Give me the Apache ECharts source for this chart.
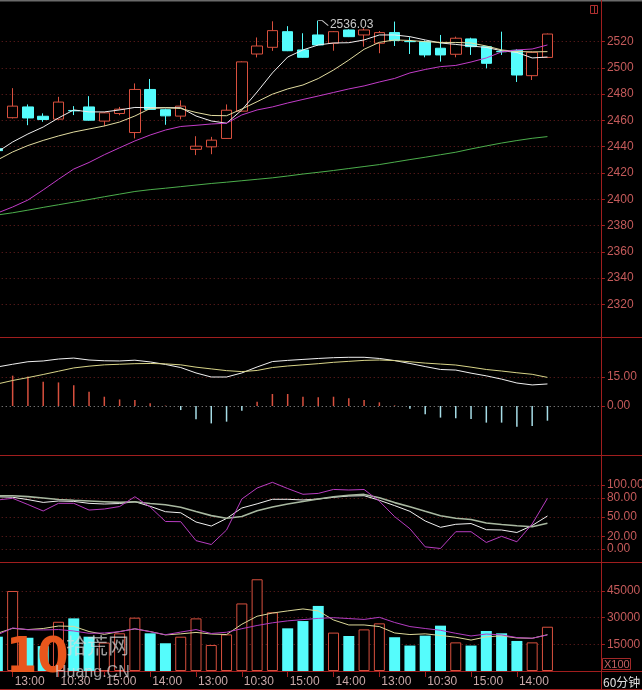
<!DOCTYPE html>
<html><head><meta charset="utf-8">
<script src="https://cdn.jsdelivr.net/npm/echarts@6/dist/echarts.min.js"></script>
<style>html,body{margin:0;padding:0;background:#000;overflow:hidden}#c{width:642px;height:690px}</style>
</head><body><div id="c"></div>
<script>
// ---- price candles (index 0 is the partly hidden bar at the left edge) ----
const opens  = [2438.5,2462.1,2470.3,2463.2,2461.0,2467.6,2470.3,2459.5,2465.3,2450.8,2483.6,2468.2,2463.3,2438.0,2439.9,2446.3,2467.1,2510.6,2515.7,2527.6,2513.7,2525.1,2518.8,2528.9,2525.1,2518.8,2526.9,2520.1,2520.0,2515.0,2510.4,2522.1,2516.2,2512.6,2513.4,2494.1,2508.0];
const closes = [2437.0,2470.9,2461.9,2460.7,2474.0,2467.3,2460.2,2465.8,2468.6,2483.6,2468.4,2463.5,2470.9,2440.4,2445.0,2467.8,2504.6,2516.7,2528.4,2513.1,2508.1,2517.5,2527.6,2523.8,2528.9,2526.9,2520.8,2520.0,2509.9,2509.9,2522.6,2516.2,2503.5,2512.3,2494.6,2511.9,2525.8];
const lows   = [2434.0,2461.5,2456.4,2459.0,2460.5,2464.1,2459.8,2455.6,2464.0,2446.3,2468.0,2456.7,2460.8,2433.6,2434.3,2446.0,2466.8,2508.0,2513.0,2512.8,2507.8,2517.0,2513.1,2523.5,2516.2,2511.2,2516.7,2510.6,2508.1,2504.8,2508.1,2509.9,2499.7,2509.9,2489.3,2490.8,2507.5];
const highs  = [2441.0,2484.6,2472.2,2465.4,2478.0,2470.9,2478.5,2466.5,2470.3,2488.2,2491.6,2469.0,2475.3,2448.0,2447.5,2472.2,2505.0,2523.2,2535.5,2531.8,2526.4,2536.03,2528.0,2529.4,2530.2,2528.1,2535.3,2523.4,2521.0,2525.1,2523.8,2523.0,2516.7,2527.6,2514.2,2512.4,2526.2];
// ---- price moving averages ----
const ma5  = [2436.0,2443.6,2449.7,2455.0,2461.9,2468.0,2466.5,2466.5,2468.0,2469.9,2469.7,2469.7,2469.7,2463.4,2459.6,2457.9,2468.0,2481.7,2496.2,2508.3,2513.7,2517.5,2519.0,2519.2,2521.3,2525.1,2525.1,2523.8,2521.3,2519.0,2517.9,2516.7,2515.6,2513.1,2511.8,2507.6,2508.3];
const ma10 = [2429.9,2436.0,2440.9,2444.8,2448.2,2451.2,2453.5,2455.8,2458.8,2463.4,2469.1,2469.7,2469.1,2466.1,2463.8,2463.6,2468.7,2474.3,2480.0,2484.0,2487.0,2491.9,2498.4,2506.0,2514.2,2519.5,2521.3,2520.9,2520.0,2519.4,2519.4,2519.0,2516.7,2513.7,2512.5,2512.2,2512.4];
const ma20 = [2389.5,2394.1,2399.4,2407.1,2415.2,2423.0,2428.0,2433.9,2439.2,2444.4,2448.9,2452.7,2455.4,2456.3,2457.3,2457.9,2464.2,2468.0,2470.3,2473.3,2476.0,2478.6,2481.3,2484.0,2486.3,2489.3,2492.0,2496.2,2498.8,2501.0,2501.9,2504.5,2507.6,2512.2,2513.7,2514.4,2517.5];
const ma60 = [2388.0,2389.7,2391.7,2393.8,2395.8,2397.8,2399.8,2401.9,2403.9,2405.9,2407.3,2408.4,2409.6,2410.8,2412.0,2413.0,2414.1,2415.2,2416.3,2417.7,2419.2,2420.5,2421.9,2423.4,2424.9,2426.4,2428.3,2430.2,2432.0,2433.9,2435.8,2438.3,2440.6,2442.8,2444.7,2446.4,2447.7];
// ---- MACD ----
const macdDif  = [20.2,21.6,22.9,23.3,24.3,24.8,23.8,23.4,23.3,23.7,22.8,21.5,19.9,17.1,15.0,15.0,17.1,20.2,23.0,23.6,24.1,24.6,25.0,25.2,25.2,24.6,23.5,22.0,20.4,18.9,18.6,17.0,15.6,13.9,11.9,10.9,11.4];
const macdDea  = [11.4,13.2,14.7,16.3,18.0,19.7,20.6,21.3,21.6,21.9,22.0,21.8,21.3,20.1,19.2,18.3,17.8,18.4,19.9,20.7,21.3,21.9,22.6,23.1,23.6,23.8,23.5,22.9,22.2,21.7,21.2,20.1,18.9,18.1,17.2,16.4,14.8];
const macdHist = [16.5,15.7,15.2,12.6,12.2,10.7,7.4,4.8,3.4,3.1,1.4,0.2,-2.1,-6.9,-9.0,-8.1,-2.4,2.2,6.2,6.2,4.8,4.5,4.8,4.0,3.1,1.9,0.3,-1.4,-4.3,-6.0,-6.4,-6.7,-8.6,-8.6,-10.7,-10.3,-7.6];
// ---- KDJ ----
const kdjK = [81.6,80.9,77.2,72.8,75.0,74.4,71.4,70.3,71.1,73.9,66.7,58.3,56.6,42.2,35.9,47.7,64.1,70.6,77.7,77.7,76.6,78.1,80.8,82.8,83.3,76.2,67.8,58.9,43.8,33.9,38.6,39.8,30.2,29.7,25.8,36.7,51.6];
const kdjD = [83.3,83.3,81.9,79.7,77.3,76.1,75.0,73.9,72.8,73.9,71.1,69.1,65.2,58.6,52.2,48.0,50.8,59.7,65.6,70.3,74.2,78.1,81.7,83.9,85.3,80.2,72.5,66.1,58.9,52.0,48.0,46.1,40.6,38.4,36.3,34.8,40.2];
const kdjJ = [76.6,79.2,69.5,59.4,71.4,71.4,60.9,62.5,66.4,81.7,65.6,43.0,42.7,13.1,7.0,29.7,78.1,95.3,104.2,94.5,85.5,86.9,93.1,92.2,93.0,74.7,50.6,31.7,3.4,0.8,27.0,27.0,10.2,19.8,11.3,39.1,79.2];
// ---- volume (x100) ----
const volumes = [19300,45000,18700,14000,27700,29600,19300,16000,21200,30000,21200,15600,19300,29600,14600,20600,38000,51600,33000,24000,28100,36600,21600,19700,23400,26800,19000,14300,19900,25500,16100,14300,22500,21200,16900,16100,24900];
const volMa5  = [21200,24000,23300,23900,25300,25100,22200,20600,22200,23700,22200,20300,20900,21700,20800,20500,26300,30800,32600,33800,34900,33800,28700,25900,25900,25000,21400,20500,20900,20000,19000,17400,19200,19800,18600,18400,20400];
const volMa10 = [20300,24200,23200,23100,23300,22500,21200,21400,22100,23800,22100,20400,21900,23300,21100,21800,23800,25600,27100,28200,28900,29600,30000,29500,29000,30200,27300,25000,23900,22900,21200,19700,20800,20300,18800,18400,20300];
// ---- time axis labels ----
const tickIdx  = [1,4,7,10,13,16,19,22,25,28,31,34];
const tickText = ['13:00','10:30','15:00','14:00','13:00','10:30','15:00','14:00','13:00','10:30','15:00','14:00'];
const priceTicks = [2320,2340,2360,2380,2400,2420,2440,2460,2480,2500,2520];
const macdTicks = [0,15];
const kdjTicks = [0,20,50,80,100];
const volTicks = [15000,30000,45000];
const emptySlots = 3;

const RED = '#d8503e', CYAN = '#55fcfc', AXRED = '#a01e1e', GRID = '#6e2020', LBL = '#c45a5a';
const cats = opens.map((_, i) => String(i));
for (let k = 0; k < emptySlots; k++) cats.push('e' + k);
const labelMap = {};
tickIdx.forEach((ix, j) => labelMap[ix] = tickText[j]);
const up = opens.map((o, i) => closes[i] >= o);

const chart = echarts.init(document.getElementById('c'), null, {renderer: 'canvas'});
const gridBase = {left: -10.28, width: 611.2, containLabel: false, outerBoundsMode: 'none'};
const grids = [
  Object.assign({top: 2, height: 335}, gridBase),
  Object.assign({top: 337, height: 118}, gridBase),
  Object.assign({top: 455, height: 107}, gridBase),
  Object.assign({top: 562, height: 109}, gridBase)
];
function xAx(gi, show) {
  return {
    type: 'category', gridIndex: gi, data: cats, boundaryGap: true,
    axisLine: {show: show, lineStyle: {color: AXRED, width: 1}},
    axisTick: {show: show, alignWithLabel: true, length: 6, lineStyle: {color: AXRED},
      interval: (i) => labelMap[i] !== undefined},
    axisLabel: {show: show, interval: 0, align: 'left', margin: 5, color: '#c8a8a8', fontSize: 12,
      fontFamily: 'Liberation Sans, Arial', padding: [0, 0, 0, 2],
      formatter: (v, i) => labelMap[i] || ''},
    splitLine: {show: false}
  };
}
function yAx(gi, min, max, ticks, dec, splitColors) {
  return {
    type: 'value', gridIndex: gi, position: 'right', min: min, max: max, scale: true,
    axisLine: {show: true, lineStyle: {color: AXRED}},
    axisTick: {show: true, inside: false, length: 4, customValues: ticks, lineStyle: {color: AXRED}},
    axisLabel: {show: true, customValues: ticks, margin: 6, color: LBL, fontSize: 12,
      fontFamily: 'Liberation Sans, Arial', formatter: (v) => v.toFixed(dec)},
    splitLine: {show: true, lineStyle: {color: splitColors || GRID, type: [1, 3], width: 1}}
  };
}
const lineS = (name, data, color, xi, yi, w) => ({
  type: 'line', name: name, data: data, xAxisIndex: xi, yAxisIndex: yi, symbol: 'none',
  smooth: false, lineStyle: {color: color, width: w || 1}, silent: true, animation: false
});

const option = {
  backgroundColor: '#000',
  animation: false,
  grid: grids,
  xAxis: [xAx(0, false), xAx(1, false), xAx(2, false), xAx(3, true)],
  yAxis: [
    yAx(0, 2295.1, 2550.2, priceTicks, 0),
    yAx(1, -25.35, 35.7, macdTicks, 2, ['#9a9a9a', GRID]),
    yAx(2, -20.3, 146.9, kdjTicks, 2),
    yAx(3, 0, 61312, volTicks, 0)
  ],
  series: [
    {
      type: 'candlestick', xAxisIndex: 0, yAxisIndex: 0, barWidth: 11,
      data: opens.map((o, i) => [o, closes[i], lows[i], highs[i]]),
      itemStyle: {color: '#000', color0: CYAN, borderColor: RED, borderColor0: CYAN, borderWidth: 1},
      markPoint: {
        symbol: 'path://M0,0 L4,0 L10,5', symbolSize: [10, 5], symbolOffset: [5, 2.5],
        itemStyle: {color: 'rgba(0,0,0,0)', borderColor: '#c8c8c8', borderWidth: 1},
        label: {show: true, position: 'right', distance: 1, color: '#c8c8c8', fontSize: 12,
          fontFamily: 'Liberation Sans, Arial', formatter: (p) => p.value.toFixed(2), offset: [0, 2]},
        data: [{type: 'max', valueDim: 'highest'}]
      }
    },
    lineS('MA5', ma5, '#eeeeee', 0, 0),
    lineS('MA10', ma10, '#e2dca0', 0, 0),
    lineS('MA20', ma20, '#c23cc8', 0, 0),
    lineS('MA60', ma60, '#4cae4c', 0, 0),
    {
      type: 'bar', xAxisIndex: 1, yAxisIndex: 1, barWidth: 1.5,
      data: macdHist.map((v) => ({value: v, itemStyle: {color: v >= 0 ? RED : '#a6dce6'}}))
    },
    lineS('DIF', macdDif, '#f0f0f0', 1, 1),
    lineS('DEA', macdDea, '#d8d488', 1, 1),
    lineS('K', kdjK, '#f0f0f0', 2, 2),
    lineS('D', kdjD, '#a8b8a0', 2, 2, 1.6),
    lineS('J', kdjJ, '#b83cc0', 2, 2),
    {
      type: 'bar', xAxisIndex: 3, yAxisIndex: 3, barWidth: 11,
      data: volumes.map((v, i) => ({value: v, itemStyle: up[i]
        ? {color: '#000', borderColor: RED, borderWidth: 1}
        : {color: CYAN}}))
    },
    lineS('VMA5', volMa5, '#dcd898', 3, 3),
    lineS('VMA10', volMa10, '#b23cc0', 3, 3)
  ],
  graphic: [
    {type: 'line', shape: {x1: 0, y1: 0.5, x2: 642, y2: 0.5}, style: {stroke: '#6a6a6a', lineWidth: 2}, silent: true},
    {type: 'line', shape: {x1: 0, y1: 337.5, x2: 642, y2: 337.5}, style: {stroke: AXRED, lineWidth: 1}, silent: true},
    {type: 'line', shape: {x1: 0, y1: 455.5, x2: 642, y2: 455.5}, style: {stroke: AXRED, lineWidth: 1}, silent: true},
    {type: 'line', shape: {x1: 0, y1: 562.5, x2: 642, y2: 562.5}, style: {stroke: AXRED, lineWidth: 1}, silent: true},
    {type: 'line', shape: {x1: 0, y1: 671.5, x2: 642, y2: 671.5}, style: {stroke: AXRED, lineWidth: 1}, silent: true},
    {type: 'line', shape: {x1: 0, y1: 689.5, x2: 642, y2: 689.5}, style: {stroke: AXRED, lineWidth: 1}, silent: true},
    {type: 'line', shape: {x1: 601.5, y1: 0, x2: 601.5, y2: 690}, style: {stroke: AXRED, lineWidth: 1}, silent: true},
    {type: 'rect', shape: {x: 590.5, y: 5.5, width: 7, height: 8}, style: {fill: 'none', stroke: '#b03030', lineWidth: 1}, silent: true},
    {type: 'line', shape: {x1: 594.5, y1: 5.5, x2: 594.5, y2: 13.5}, style: {stroke: '#b03030', lineWidth: 1}, silent: true},
    {type: 'rect', shape: {x: 602.5, y: 658.5, width: 28, height: 11}, style: {fill: 'none', stroke: '#a02828', lineWidth: 1}, silent: true},
    {type: 'text', x: 604, y: 659, style: {text: 'X100', fill: '#c06060', font: '11px Liberation Sans, Arial'}, silent: true},
    {type: 'text', x: 603, y: 676, style: {text: '60分钟', fill: '#e0e0e0', font: '12px Noto Sans CJK SC'}, silent: true},
    {type: 'text', x: 6, y: 634, style: {text: '10', fill: '#e8561c', font: 'bold 50px DejaVu Sans Condensed, DejaVu Sans'}, silent: true, z: 100},
    {type: 'text', x: 66, y: 635, style: {text: '拾荒网', fill: 'rgba(220,220,220,0.7)', font: '21px Noto Sans CJK SC'}, silent: true, z: 100},
    {type: 'text', x: 55, y: 665, style: {text: 'Huang.CN', fill: 'rgba(220,220,220,0.7)', font: '16px Liberation Sans, Arial'}, silent: true, z: 100}
  ]
};
chart.setOption(option);
</script>
</body></html>
